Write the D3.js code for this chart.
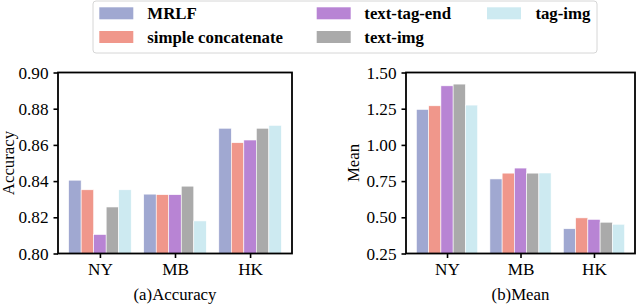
<!DOCTYPE html>
<html><head><meta charset="utf-8">
<script src="https://cdn.jsdelivr.net/npm/d3@7"></script>
<style>
html,body{margin:0;padding:0;background:#fff;}
svg{display:block;}
text{font-family:"Liberation Serif","Times New Roman",serif;}
</style></head>
<body><svg id="c" width="640" height="304"></svg>
<script>
const categories = ["NY","MB","HK"];
const seriesNames = ["MRLF","simple concatenate","text-tag-end","text-img","tag-img"];
const colors = ["#a0a8d1","#f0978b","#b884d4","#aaaaaa","#cdeaf1"];
const accuracy = [
  [0.8405,0.8328,0.8692],
  [0.8352,0.8325,0.8612],
  [0.8105,0.8325,0.8627],
  [0.8257,0.8372,0.8692],
  [0.8352,0.8180,0.8708]
];
const mean = [
  [1.245,0.765,0.421],
  [1.270,0.805,0.496],
  [1.408,0.840,0.486],
  [1.420,0.805,0.466],
  [1.275,0.806,0.452]
];
const accTicks = [0.80,0.82,0.84,0.86,0.88,0.90];
const meanTicks = [0.25,0.50,0.75,1.00,1.25,1.50];

const svg = d3.select("#c");
const FS = 16.8;
const TFS = 17.2;
const nS = seriesNames.length;
const bw = 1/6;

function panel(x0,x1,data,ydom,ticks,ylabel,title,ylabX){
  const top=72.5,bot=253.5;
  const left0 = -2.5*bw, right0 = 2+2.5*bw;
  const m = (right0-left0)*0.05;
  const x = d3.scaleLinear().domain([left0-m,right0+m]).range([x0,x1]);
  const y = d3.scaleLinear().domain(ydom).range([bot,top]);
  const g = svg.append("g");
  for(let s=0;s<nS;s++){
    g.selectAll(null).data(data[s]).enter().append("rect")
      .attr("x",(d,i)=>x(i+(s-2)*bw-bw/2))
      .attr("width",(d,i)=>x(i+(s-2)*bw+bw/2)-x(i+(s-2)*bw-bw/2))
      .attr("y",d=>y(d)).attr("height",d=>bot-y(d))
      .attr("fill",colors[s]).attr("stroke","#fff").attr("stroke-width",0.6);
  }
  const ya = d3.axisLeft(y).tickValues(ticks).tickFormat(d3.format(".2f")).tickSize(4.5).tickPadding(5);
  const ga = g.append("g").attr("transform",`translate(${x0},0)`).call(ya);
  const xa = d3.axisBottom(x).tickValues([0,1,2]).tickFormat(i=>categories[i]).tickSize(4.5).tickPadding(5);
  const gx = g.append("g").attr("transform",`translate(0,${bot})`).call(xa);
  [ga,gx].forEach(a=>{
    a.select(".domain").remove();
    a.selectAll(".tick line").attr("stroke","#000").attr("stroke-width",1.6);
    a.selectAll(".tick text").attr("fill","#000").style("font-size",TFS+"px").style("font-family","'Liberation Serif',serif");
  });
  g.append("rect").attr("x",x0).attr("y",top).attr("width",x1-x0).attr("height",bot-top)
    .attr("fill","none").attr("stroke","#000").attr("stroke-width",1.8);
  g.append("text").attr("transform",`translate(${ylabX},${(top+bot)/2}) rotate(-90)`)
    .attr("text-anchor","middle").style("font-size",FS+"px").text(ylabel);
  g.append("text").attr("x",(x0+x1)/2).attr("y",300).attr("text-anchor","middle")
    .style("font-size",FS+"px").text(title);
}
panel(58,292,accuracy,[0.80,0.90],accTicks,"Accuracy","(a)Accuracy",14);
panel(406,635,mean,[0.25,1.50],meanTicks,"Mean","(b)Mean",359);

// legend
const lg = svg.append("g");
lg.append("rect").attr("x",93).attr("y",1).attr("width",504).attr("height",52).attr("rx",3)
  .attr("fill","#fff").attr("stroke","#d6d6d6").attr("stroke-width",1);
const colPatch=[99.3,316.7,487], colText=[147.3,364.3,535.4], rowY=[13.3,37];
seriesNames.forEach((n,i)=>{
  const c=Math.floor(i/2), r=i%2;
  lg.append("rect").attr("x",colPatch[c]).attr("y",rowY[r]-6).attr("width",34).attr("height",12).attr("fill",colors[i]);
  lg.append("text").attr("x",colText[c]).attr("y",rowY[r]+6).style("font-size",FS+"px")
    .style("font-weight","bold").text(n);
});
</script></body></html>
